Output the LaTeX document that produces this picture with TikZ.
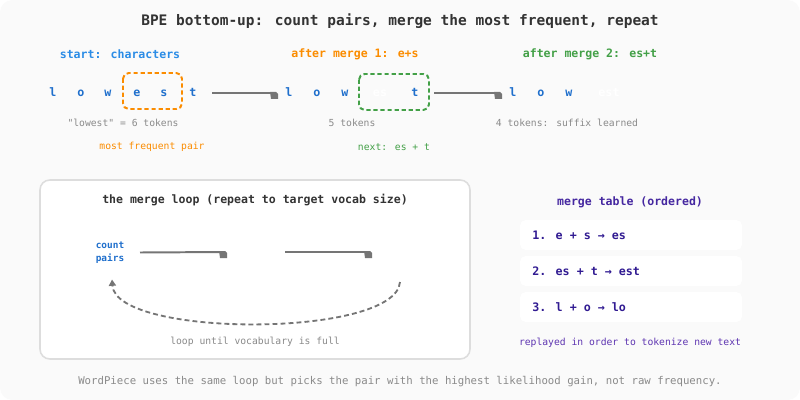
\documentclass[tikz,border=0pt]{standalone}
\usepackage{fontspec}
\setmainfont{DejaVu Sans Mono}[Ligatures=TeXOff]
\usetikzlibrary{arrows.meta}
\definecolor{bgpanel}{HTML}{FAFAFA}
\definecolor{titlegray}{HTML}{333333}
\definecolor{startblue}{HTML}{2B8CE6}
\definecolor{tokblue}{HTML}{1F6FCC}
\definecolor{mergeorange}{HTML}{FB8C00}
\definecolor{mergegreen}{HTML}{43A047}
\definecolor{capgray}{HTML}{8A8A8A}
\definecolor{arrowgray}{HTML}{757575}
\definecolor{boxgray}{HTML}{DDDDDD}
\definecolor{headpurple}{HTML}{4527A0}
\definecolor{rowpurple}{HTML}{311B92}
\definecolor{notepurple}{HTML}{5E35B1}
\begin{document}
\begin{tikzpicture}[x=0.025cm, y=-0.025cm,
  tok/.style={font=\fontsize{8.3}{10}\selectfont\bfseries, text=tokblue, inner sep=0pt, anchor=base},
  captext/.style={font=\fontsize{6.9}{8}\selectfont, text=capgray, inner sep=0pt},
  head/.style={font=\fontsize{8.2}{10}\selectfont\bfseries, inner sep=0pt},
  flow/.style={draw=arrowgray, line width=1.4pt},
  tipmark/.pic={\fill[arrowgray] (-6,-1) -- (0,-1) -- (2,1) -- (2,6) -- (-5,6) -- cycle;},
  pairbox/.style={line width=1.4pt, dash pattern=on 3pt off 2pt, rounded corners=4pt},
  rowbox/.style={fill=white, rounded corners=4pt},
  rowtxt/.style={font=\fontsize{8.3}{10}\selectfont\bfseries, text=rowpurple, anchor=west, inner sep=0pt}]
  \useasboundingbox (0,0) rectangle (800,400);
  \fill[white] (0,0) rectangle (800,400);
  \fill[bgpanel, rounded corners=9pt] (0,0) rectangle (800,400);

  \node[font=\fontsize{10.3}{12}\selectfont\bfseries, text=titlegray] (title) at (400,21)
    {BPE bottom-up: count pairs, merge the most frequent, repeat};

  % three stages of "lowest"
  \node[head, text=startblue] (start) at (120,54) {start: characters};
  \node[head, text=mergeorange] (merge1) at (355,54) {after merge 1: e+s};
  \node[head, text=mergegreen] (merge2) at (590,54) {after merge 2: es+t};

  \foreach \ch/\xx [count=\i] in {l/53, o/81, w/108, e/137, s/164, t/193}
    \node[tok] (a\i) at (\xx,97) {\ch};
  \foreach \ch/\xx [count=\i] in {l/289, o/317, w/345}
    \node[tok] (b\i) at (\xx,97) {\ch};
  \node[tok, text=white] (b4) at (380,97) {es};
  \node[tok] (b5) at (415,97) {t};
  \foreach \ch/\xx [count=\i] in {l/513, o/541, w/569}
    \node[tok] (c\i) at (\xx,97) {\ch};
  \node[tok, text=white] (c4) at (609,97) {est};

  \draw[pairbox, mergeorange] (123,73) rectangle (182,109);
  \draw[pairbox, mergegreen] (359,74) rectangle (429,110);

  \draw[flow] ([shift={(19,-4)}]a6.base) -- ([shift={(-13,-4)}]b1.base) pic{tipmark};
  \draw[flow] ([shift={(19,-4)}]b5.base) -- ([shift={(-13,-4)}]c1.base) pic{tipmark};

  \node[captext] (cap1) at (123,123) {"lowest" = 6 tokens};
  \node[captext] (cap2) at (352,123) {5 tokens};
  \node[captext] (cap3) at (567,123) {4 tokens: suffix learned};
  \node[captext, text=mergeorange] (pair1) at (152,147) {most frequent pair};
  \node[captext, text=mergegreen] (pair2) at (394,147) {next: es + t};

  % the merge loop
  \draw[boxgray, fill=white, line width=1.1pt, rounded corners=7pt] (40,180) rectangle (470,359);
  \node[head, text=titlegray] (looptitle) at (255,200) {the merge loop (repeat to target vocab size)};
  \node[font=\fontsize{6.7}{9.2}\selectfont\bfseries, text=tokblue, align=center, inner sep=0pt]
    (cnt) at (110,252.5) {count\\pairs};
  \coordinate (mslot) at (256,252);
  \coordinate (aslot) at (400,252);
  \draw[flow] ([shift={(30,0)}]cnt.center) -- ([shift={(-31,0)}]mslot) pic{tipmark};
  \draw[flow] ([shift={(29,0)}]mslot) -- ([shift={(-30,0)}]aslot) pic{tipmark};
  \draw[arrowgray, line width=1.3pt, dash pattern=on 3.5pt off 2.2pt, -{Triangle[length=4.5pt,width=5pt]}]
    ([shift={(0,30)}]aslot) .. controls (396,338) and (116,338) .. ([shift={(2,27)}]cnt.center);
  \node[captext] (loopnote) at (255,342) {loop until vocabulary is full};

  % merge table
  \node[head, text=headpurple] (tabletitle) at (630,202) {merge table (ordered)};
  \foreach \yy/\txt [count=\k] in {235/{1. e + s → es}, 271/{2. es + t → est}, 307/{3. l + o → lo}} {
    \fill[rowbox] (520,\yy-15) rectangle (742,\yy+15);
    \node[rowtxt] (row\k) at (532,\yy) {\txt};
  }
  \node[captext, text=notepurple] (replay) at (630,343) {replayed in order to tokenize new text};

  \node[font=\fontsize{7.6}{9}\selectfont, text=capgray] (foot) at (400,382)
    {WordPiece uses the same loop but picks the pair with the highest likelihood gain, not raw frequency.};
\end{tikzpicture}
\end{document}
